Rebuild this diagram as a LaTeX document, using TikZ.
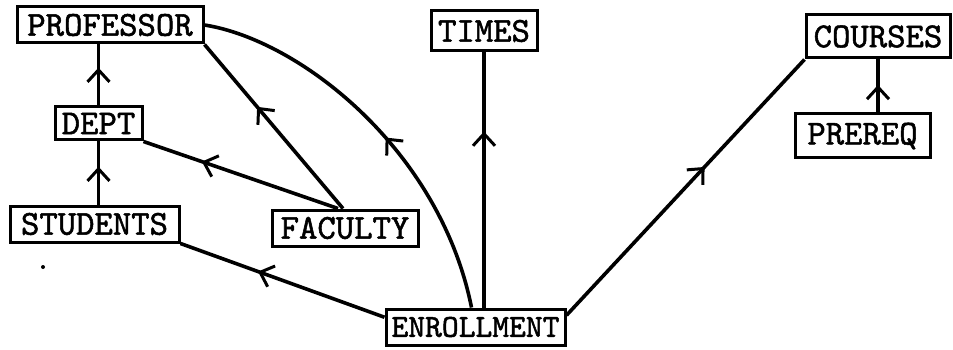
\documentclass[tikz,border=0pt]{standalone}
\usepackage{fontspec}
\newfontfamily\tyfont{lmmono10-regular.otf}[FakeBold=1.5]
\usetikzlibrary{arrows.meta,decorations.markings,calc}
\tikzset{
  ent/.style={draw,line width=3pt,inner sep=0pt,font=\tyfont\fontsize{35}{40}\selectfont},
  rel/.style={line width=3.6pt},
  midarrow/.style={postaction={decorate,decoration={markings,
     mark=at position #1 with {\arrow{Straight Barb[length=12pt,width=22pt,line width=3pt]}}}}}
}
\begin{document}
\begin{tikzpicture}[x=1pt,y=-1pt]
\useasboundingbox (0,0) rectangle (953,350);
\node[ent,minimum width=186pt,minimum height=36pt] (prof) at (110,25) {PROFESSOR};
\node[ent,minimum width=87pt,minimum height=33pt] (dept) at (98.5,123.5) {DEPT};
\node[ent,minimum width=169pt,minimum height=36pt] (stud) at (94.5,224) {STUDENTS};
\node[ent,minimum width=146pt,minimum height=36pt] (fac) at (345,228) {FACULTY};
\node[ent,minimum width=106pt,minimum height=40pt] (times) at (484,31) {TIMES};
\node[ent,minimum width=179pt,minimum height=36pt,font=\tyfont\fontsize{32}{38}\selectfont] (enr) at (475.5,327) {ENROLLMENT};
\node[ent,minimum width=144pt,minimum height=43pt] (cour) at (878,36.5) {COURSES};
\node[ent,minimum width=135pt,minimum height=44pt] (pre) at (862.5,136) {PREREQ};
\coordinate (dot) at (43,267);
\fill (dot) circle (2pt);
% edges
\draw[rel,midarrow=0.62] (dept.north) -- (prof.south -| dept.north);
\draw[rel,midarrow=0.6] (stud.north -| dept.south) -- (dept.south);
\draw[rel,midarrow=0.62] ([xshift=-2pt]fac.north) -- (prof.south east);
\draw[rel,midarrow=0.7] ([xshift=-7pt]fac.north) -- (dept.south east);
\draw[rel,midarrow=0.62] ($(enr.north west)!0.25!(enr.south west)$) -- (stud.south east);
\draw[rel,midarrow=0.47] ([xshift=-4pt]enr.north) .. controls (440,150) and (300,40) .. (prof.east);
\draw[rel,midarrow=0.69] (enr.north -| times.south) -- (times.south);
\draw[rel,midarrow=0.58] ($(enr.north east)!0.2!(enr.south east)$) -- (cour.south west);
\draw[rel,midarrow=0.52] (pre.north -| cour.south) -- (cour.south);
\end{tikzpicture}
\end{document}
